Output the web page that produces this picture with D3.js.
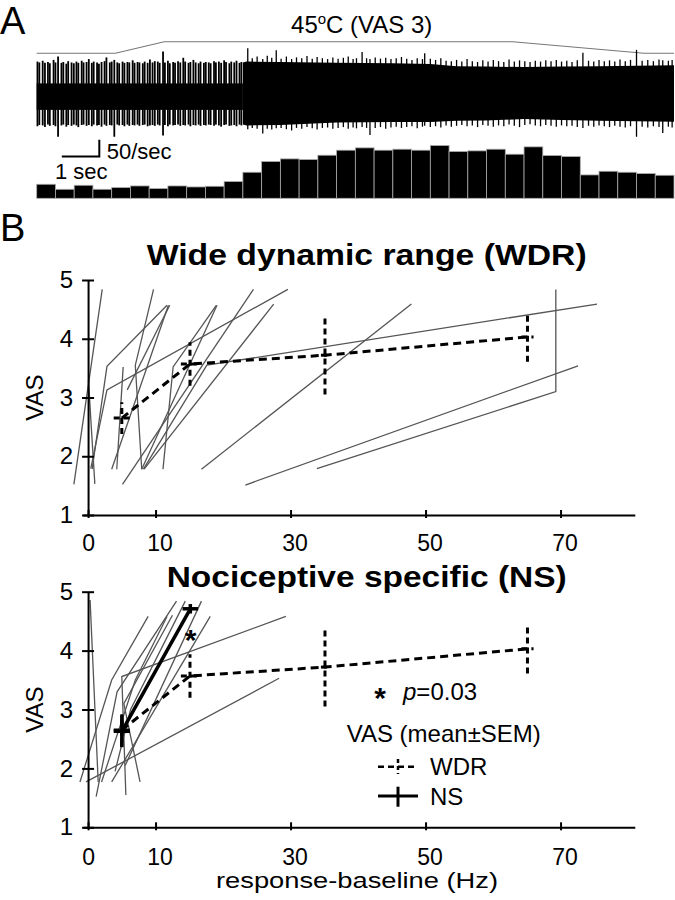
<!DOCTYPE html>
<html><head><meta charset="utf-8">
<script src="https://cdn.jsdelivr.net/npm/d3@7"></script>
<style>
body{margin:0;background:#fff}
text{font-family:"Liberation Sans",Arial,Helvetica,sans-serif;fill:#000}
</style>
</head><body>
<svg id="c" width="675" height="900"></svg>
<script>
// ---------------- Panel A data ----------------
const tempT = [0, 2.1, 3.4, 12.7, 16.2, 17];          // s
const tempV = [35, 35, 45, 45, 35, 35];               // deg C
const binWidth = 0.5;                                 // s
const rates = [42,27,39,27,32,37,29,37,34,36,50,78,110,118,116,129,144,151,144,147,144,158,140,142,147,132,154,128,125,70,81,78,74,69]; // spikes/s
const noiseUp = 0.24, noiseDown = -0.39;
const spikeT = [0.02,0.07,0.16,0.22,0.30,0.35,0.45,0.50,0.57,0.66,
 0.71,0.79,0.84,0.93,0.99,1.06,1.11,1.20,1.25,1.33,
 1.39,1.47,1.52,1.61,1.66,1.73,1.81,1.86,1.95,2.00,
 2.07,2.15,2.20,2.29,2.34,2.42,2.47,2.56,2.61,2.69,
 2.74,2.83,2.88,2.96,3.02,3.09,3.15,3.23,3.28,3.37,
 3.42,3.50,3.55,3.64,3.69,3.77,3.83,3.91,3.96,4.05,
 4.10,4.18,4.24,4.32,4.37,4.46,4.51,4.59,4.64,4.73,
 4.78,4.86,4.92,5.00,5.05,5.14,5.19,5.27,5.33,5.41,
 5.46];
const spikeUp = [0.76,0.74,0.78,0.73,0.75,0.72,0.80,0.74,0.88,0.73,
 0.75,0.71,0.77,0.74,0.72,0.76,0.73,0.78,0.74,0.75,
 0.82,0.73,0.76,0.74,0.71,0.75,0.77,0.86,0.74,0.76,
 0.80,0.74,0.72,0.76,0.73,0.75,0.74,0.79,0.73,0.75,
 0.74,0.72,0.76,0.73,0.81,0.74,0.77,0.76,0.73,1.00,
 0.74,0.78,0.72,0.75,0.73,0.77,0.74,0.85,0.76,0.73,
 0.75,0.80,0.74,0.72,0.76,0.73,0.75,0.74,0.72,0.77,
 0.74,0.76,0.73,0.79,0.75,0.72,0.76,0.74,0.78,0.73,
 0.75];
const spikeDown = [-0.78,-0.75,-0.76,-0.80,-0.74,-0.77,-0.75,-0.78,-1.03,-0.76,
 -0.74,-0.79,-0.75,-0.77,-0.74,-0.76,-0.80,-0.75,-0.74,-0.77,
 -0.75,-0.78,-0.74,-0.76,-0.75,-0.79,-0.74,-0.77,-0.75,-0.76,
 -1.03,-0.74,-0.76,-0.75,-0.78,-0.74,-0.77,-0.75,-0.76,-0.74,
 -0.77,-0.75,-0.74,-0.78,-0.76,-0.75,-0.77,-0.74,-0.76,-1.00,
 -0.75,-0.78,-0.74,-0.76,-0.75,-0.74,-0.77,-0.75,-0.76,-0.74,
 -0.78,-0.75,-0.76,-0.74,-0.77,-0.75,-0.76,-0.74,-0.75,-0.77,
 -0.74,-0.76,-0.79,-0.75,-0.74,-0.77,-0.76,-0.75,-0.78,-0.74,
 -0.76];
const envT   = [5.5, 5.6, 6.5, 8, 9.5, 10.5, 11.2, 12, 13, 14, 15, 16, 17];
const envTop = [0.74,0.76,0.75,0.73,0.72,0.70,0.65,0.64,0.63,0.64,0.65,0.66,0.67];
const envBot = [-0.74,-0.76,-0.75,-0.69,-0.68,-0.68,-0.65,-0.64,-0.61,-0.63,-0.65,-0.66,-0.67];
const burstT = [5.63,5.75,5.88,6.03,6.15,6.27,6.39,6.52,6.66,6.80,
 6.93,7.07,7.21,7.35,7.48,7.62,7.76,7.90,8.04,8.18,
 8.31,8.44,8.53,8.68,8.80,8.89,9.03,9.17,9.31,9.45,
 9.59,9.73,9.87,10.01,10.15,10.29,10.35,10.50,10.64,10.78,
 10.92,11.06,11.20,11.34,11.48,11.62,11.76,11.90,12.04,12.18,
 12.32,12.46,12.60,12.74,12.88,13.02,13.16,13.30,13.44,13.58,
 13.72,13.86,14.00,14.14,14.28,14.42,14.57,14.72,14.86,15.00,
 15.14,15.28,15.42,15.56,15.70,15.84,16.00,16.15,16.30,16.45,
 16.60,16.70,16.85,16.95];
const burstUp = [1.08,0.84,0.88,0.82,0.90,0.85,1.03,0.83,0.88,0.82,
 0.86,0.84,0.89,0.83,0.87,0.84,0.82,0.86,0.83,0.85,
 0.88,0.82,0.84,0.99,0.84,0.82,0.86,0.83,0.85,0.82,
 0.84,0.87,0.83,0.80,0.84,0.82,0.96,0.83,0.80,0.84,
 0.78,0.77,0.80,0.76,0.82,0.77,0.75,0.79,0.76,0.80,
 0.77,0.75,0.81,0.76,0.79,0.77,0.75,0.78,0.76,0.79,
 0.77,0.80,0.76,0.78,0.75,0.79,0.97,0.78,0.76,0.80,
 0.77,0.79,0.76,0.81,0.77,0.80,1.04,0.78,0.80,0.77,
 0.81,0.79,0.78,0.80];
const burstDown = [-0.85,-0.82,-0.84,-0.95,-0.84,-0.86,-0.83,-0.82,-0.85,-0.88,
 -0.82,-0.84,-0.80,-0.83,-0.86,-0.82,-0.81,-0.84,-0.82,-0.80,
 -0.84,-0.81,-0.83,-0.80,-0.82,-0.99,-0.82,-0.80,-0.84,-0.81,
 -0.79,-0.82,-0.80,-0.78,-0.83,-0.79,-0.77,-0.80,-0.78,-0.81,
 -0.76,-0.79,-0.77,-0.75,-0.78,-0.76,-0.80,-0.75,-0.77,-0.79,
 -0.76,-0.78,-0.74,-0.77,-0.80,-0.75,-0.73,-0.76,-0.78,-0.75,
 -0.77,-0.79,-0.76,-0.78,-0.77,-0.80,-0.82,-0.77,-0.79,-0.76,
 -0.78,-0.80,-0.77,-0.79,-0.81,-0.78,-1.03,-0.79,-0.81,-0.78,
 -0.80,-0.94,-0.79,-0.81];

// ---------------- Panel B data ----------------
const xTicks = [0, 10, 30, 50, 70];
const yTicks = [1, 2, 3, 4, 5];
const wdrNeuronX = [[-2.1,2.1],[0.05,1.0],[0.6,2.8,11.7],[0.4,2.8,29.6],[5.2,4.25],[3.5,11.9],[5.8,12.1],
  [7.95,7.0,9.7],[7.95,19.1],[8.2,17.6,75.4],[5.1,24.5],[11.1,12.6,19.0],[16.8,47.9],[33.9,69.3,69.3],[23.3,72.6],[8.3,27.5]];
const wdrNeuronY = [[1.52,4.84],[3.3,1.53],[1.78,3.53,4.57],[1.79,3.13,4.84],[3.52,1.78],[1.78,4.57],[3.13,4.57],
  [1.78,3.55,4.84],[1.78,4.57],[1.78,3.55,4.59],[1.52,4.84],[1.78,3.52,4.57],[1.78,4.59],[1.79,3.1,4.84],[1.51,3.54],[1.78,4.59]];
const nsNeuronX = [[0.3,1.5],[-1.2,3.5,8.9],[-0.3,28.3],[5.6,5.0,29.3],[1.2,4.3,13.1],[3.5,18.1],[7.7,5.3,12.5],[2.0,7.0,11.7],[4.0,6.3,14.4],[5.5,16.8]];
const nsNeuronY = [[4.86,1.77],[1.77,3.5,4.58],[1.77,3.53],[1.55,3.56,4.58],[1.52,3.3,4.84],[1.77,4.58],[1.77,3.1,4.6],[1.77,3.5,4.58],[1.95,3.0,4.84],[2.05,4.84]];
const wdrMeanX = [5.0, 15.1, 35.1, 65.1];
const wdrMeanY = [2.65, 3.57, 3.72, 4.03];
const wdrSemX  = [1.2, 1.35, 0.6, 0.9];
const wdrSemY  = [0.27, 0.37, 0.67, 0.42];
const nsMeanX = [5.0, 15.15];
const nsMeanY = [2.63, 4.71];
const nsSemX  = [1.2, 1.15];
const nsSemY  = [0.27, 0.08];

// ---------------- drawing ----------------
const svg = d3.select('#c');
svg.append('rect').attr('width',675).attr('height',900).attr('fill','#fff');

const tScale = d3.scaleLinear().domain([0,17]).range([36.7,674]);
const ampScale = d3.scaleLinear().domain([-1,1]).range([135.5,51.5]);
const tempScale = d3.scaleLinear().domain([35,45]).range([53.3,41.7]);
const rateScale = d3.scaleLinear().domain([0,50]).range([198.3,181.6]);

svg.append('text').attr('x',0).attr('y',34).style('font-size','38px').text('A');
svg.append('text').attr('x',0).attr('y',241).style('font-size','38px').text('B');

const tl = svg.append('text').attr('x',361.7).attr('y',33).attr('text-anchor','middle').style('font-size','24px');
tl.append('tspan').text('45');
tl.append('tspan').attr('dy',-9).style('font-size','15px').text('o');
tl.append('tspan').attr('dy',9).text('C (VAS 3)');

svg.append('path')
  .attr('d', d3.line().x((d,i)=>tScale(tempT[i])).y((d,i)=>tempScale(tempV[i]))(tempT))
  .attr('fill','none').attr('stroke','#777').attr('stroke-width',1.1);

// spike trace
svg.append('rect').attr('x',tScale(0)).attr('width',tScale(5.5)-tScale(0))
  .attr('y',ampScale(noiseUp)).attr('height',ampScale(noiseDown)-ampScale(noiseUp)).attr('fill','#000');
svg.append('g').selectAll('line').data(spikeT).join('line')
  .attr('x1',d=>tScale(d)).attr('x2',d=>tScale(d))
  .attr('y1',(d,i)=>ampScale(spikeUp[i])).attr('y2',(d,i)=>ampScale(spikeDown[i]))
  .attr('stroke','#000').attr('stroke-width',1.8);
svg.append('path')
  .attr('d', d3.area().x((d,i)=>tScale(envT[i])).y0((d,i)=>ampScale(envBot[i])).y1((d,i)=>ampScale(envTop[i]))(envT))
  .attr('fill','#000');
svg.append('g').selectAll('line').data(burstT).join('line')
  .attr('x1',d=>tScale(d)).attr('x2',d=>tScale(d))
  .attr('y1',(d,i)=>ampScale(burstUp[i])).attr('y2',(d,i)=>ampScale(burstDown[i]))
  .attr('stroke','#000').attr('stroke-width',1.3);

// histogram
svg.append('g').selectAll('rect').data(rates).join('rect')
  .attr('x',(d,i)=>tScale(i*binWidth)).attr('width',tScale(binWidth)-tScale(0))
  .attr('y',d=>rateScale(d)).attr('height',d=>rateScale(0)-rateScale(d))
  .attr('fill','#000').attr('stroke','#aaa').attr('stroke-width',0.8);

// scale bar
svg.append('path')
  .attr('d',`M${tScale(0.67)},${rateScale(125)}H${tScale(1.67)}V${rateScale(175)}`)
  .attr('fill','none').attr('stroke','#000').attr('stroke-width',2);
svg.append('text').attr('x',106.7).attr('y',159).style('font-size','22px').text('50/sec');
svg.append('text').attr('x',55).attr('y',179).style('font-size','22px').text('1 sec');

// ---------- panel B ----------
const x = d3.scaleLinear().domain([-0.75, 81]).range([83, 634.8]);
const yTop = d3.scaleLinear().domain([1,5]).range([515,280]);
const yBot = d3.scaleLinear().domain([1,5]).range([827.3,591.7]);

function axes(y, pad) {
  const gx = svg.append('g').attr('transform',`translate(0,${y(1)})`)
    .call(d3.axisBottom(x).tickValues(xTicks).tickSizeInner(3).tickSizeOuter(0).tickPadding(pad).tickFormat(d3.format('d')));
  gx.select('.domain').attr('stroke-width',2);
  gx.selectAll('.tick line').attr('y1',-5).attr('stroke-width',2);
  gx.selectAll('.tick text').style('font-size','23px').attr('dx',d=>d===0?0:4);
  const gy = svg.append('g').attr('transform',`translate(${x(0)},0)`)
    .call(d3.axisLeft(y).tickValues(yTicks).tickSizeInner(6).tickSizeOuter(0).tickPadding(9).tickFormat(d3.format('d')));
  gy.select('.domain').attr('stroke-width',2);
  gy.selectAll('.tick line').attr('x1',6).attr('stroke-width',2);
  gy.selectAll('.tick text').style('font-size','24px');
  svg.selectAll('.tick text').attr('fill','#000');
}

function neurons(y, xs, ys) {
  const line = d3.line().x(d=>x(d[0])).y(d=>y(d[1]));
  svg.append('g').selectAll('path').data(xs.map((a,i)=>a.map((v,j)=>[v, ys[i][j]]))).join('path')
    .attr('d', line).attr('fill','none').attr('stroke','#555').attr('stroke-width',1.3);
}

function means(y, mx, my, sx, sy, dashed, w) {
  const g = svg.append('g').attr('fill','none').attr('stroke','#000').attr('stroke-width',w);
  const line = d3.line().x(d=>x(d[0])).y(d=>y(d[1]));
  g.append('path').attr('d', line(mx.map((v,i)=>[v,my[i]]))).attr('stroke-dasharray', dashed ? '8,5' : null);
  mx.forEach((v,i)=>{
    g.append('line').attr('x1',x(v)).attr('x2',x(v)).attr('y1',y(my[i]-sy[i])).attr('y2',y(my[i]+sy[i]))
      .attr('stroke-dasharray', dashed ? '6,4' : null);
    g.append('line').attr('x1',x(v-sx[i])).attr('x2',x(v+sx[i])).attr('y1',y(my[i])).attr('y2',y(my[i]))
      .attr('stroke-dasharray', dashed ? '6,4' : null);
  });
}

// upper: WDR
svg.append('text').attr('x',366.7).attr('y',265).attr('text-anchor','middle')
  .attr('textLength',440).attr('lengthAdjust','spacingAndGlyphs')
  .style('font-size','30px').style('font-weight','bold').text('Wide dynamic range (WDR)');
neurons(yTop, wdrNeuronX, wdrNeuronY);
means(yTop, wdrMeanX, wdrMeanY, wdrSemX, wdrSemY, true, 3);
axes(yTop, 17);
svg.append('text').attr('transform',`translate(43,${(yTop(3))}) rotate(-90)`).attr('text-anchor','middle')
  .style('font-size','24px').text('VAS');

// lower: NS
svg.append('text').attr('x',366.7).attr('y',587).attr('text-anchor','middle')
  .attr('textLength',400).attr('lengthAdjust','spacingAndGlyphs')
  .style('font-size','30px').style('font-weight','bold').text('Nociceptive specific (NS)');
neurons(yBot, nsNeuronX, nsNeuronY);
means(yBot, wdrMeanX, wdrMeanY, wdrSemX, wdrSemY, true, 3);
means(yBot, nsMeanX, nsMeanY, nsSemX, nsSemY, false, 3.5);
axes(yBot, 18);
svg.append('text').attr('transform',`translate(43,${(yBot(3))}) rotate(-90)`).attr('text-anchor','middle')
  .style('font-size','24px').text('VAS');
svg.append('text').attr('x',357).attr('y',888).attr('text-anchor','middle')
  .attr('textLength',282).attr('lengthAdjust','spacingAndGlyphs')
  .style('font-size','22px').text('response-baseline (Hz)');

// significance asterisk
svg.append('text').attr('x',x(15.2)).attr('y',649.5).attr('text-anchor','middle')
  .style('font-size','30px').style('font-weight','bold').text('*');

// legend
svg.append('text').attr('x',380).attr('y',708).attr('text-anchor','middle')
  .style('font-size','30px').style('font-weight','bold').text('*');
const pt = svg.append('text').attr('x',403).attr('y',700).style('font-size','24px');
pt.append('tspan').style('font-style','italic').text('p');
pt.append('tspan').text('=0.03');
svg.append('text').attr('x',346.7).attr('y',741.7).style('font-size','24px').text('VAS (mean\u00B1SEM)');
const lg = svg.append('g').attr('stroke','#000').attr('fill','none');
lg.append('line').attr('x1',378).attr('x2',418).attr('y1',766.7).attr('y2',766.7).attr('stroke-width',2.5).attr('stroke-dasharray','6,4');
lg.append('line').attr('x1',398).attr('x2',398).attr('y1',759).attr('y2',774).attr('stroke-width',2.5).attr('stroke-dasharray','4,3');
lg.append('line').attr('x1',378).attr('x2',418).attr('y1',796).attr('y2',796).attr('stroke-width',3);
lg.append('line').attr('x1',398).attr('x2',398).attr('y1',786.7).attr('y2',806.7).attr('stroke-width',3);
svg.append('text').attr('x',430).attr('y',775).style('font-size','24px').text('WDR');
svg.append('text').attr('x',430).attr('y',805).style('font-size','24px').text('NS');
</script>
</body></html>
